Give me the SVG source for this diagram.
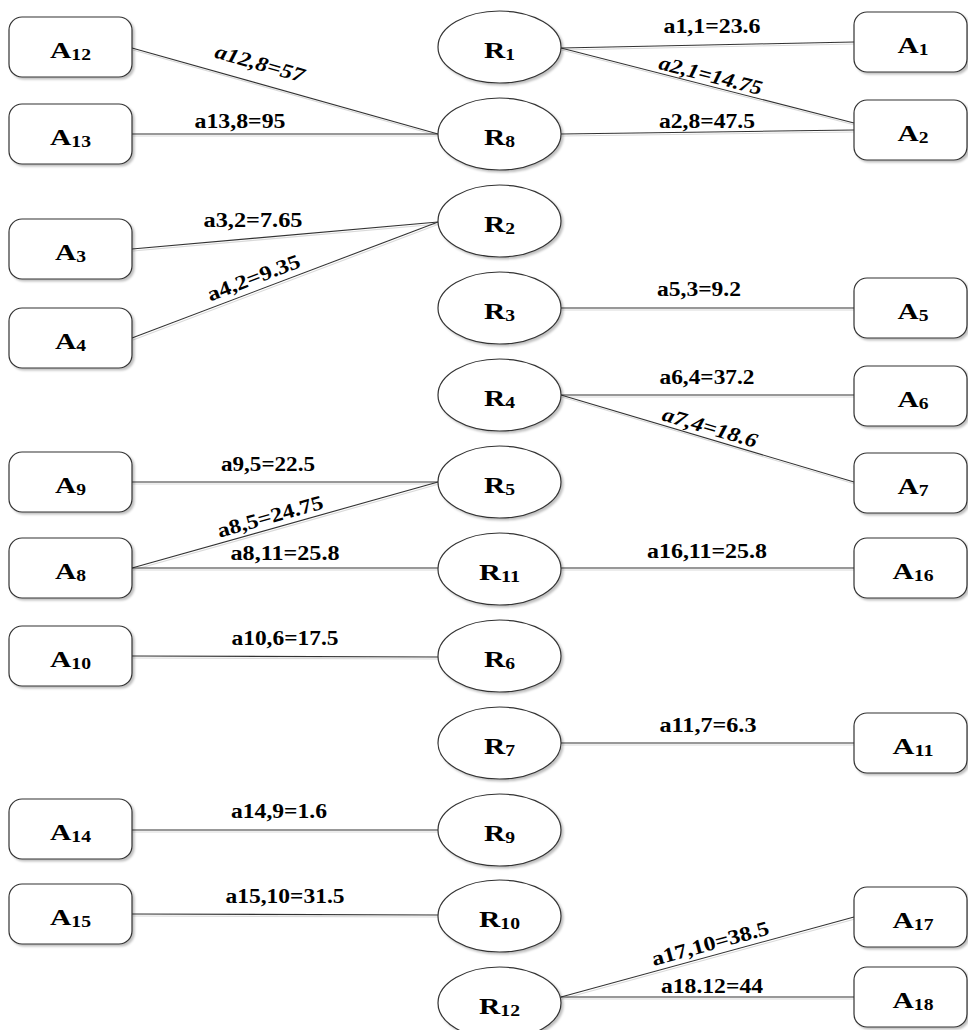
<svg xmlns="http://www.w3.org/2000/svg" width="968" height="1030" viewBox="0 0 968 1030">
<style>
.box{fill:#fff;stroke:#333;stroke-width:1.2;filter:url(#sh)}
.ell{fill:#fff;stroke:#333;stroke-width:1.2;filter:url(#sh)}
.edge{stroke:#333;stroke-width:1.1;fill:none}
.nl{font-family:"Liberation Serif","Times New Roman",serif;font-weight:bold;font-size:24px;fill:#000;text-anchor:middle}
.sub{font-size:16px}
.el{font-family:"Liberation Serif","Times New Roman",serif;font-weight:bold;font-size:20.5px;fill:#000;text-anchor:middle}
.it{font-style:italic}
</style>
<defs>
<filter id="sh" x="-10%" y="-10%" width="130%" height="130%"><feDropShadow dx="2" dy="2" stdDeviation="1" flood-color="#000" flood-opacity="0.25"/></filter>
<filter id="lsh" filterUnits="userSpaceOnUse" x="0" y="0" width="968" height="1030"><feDropShadow dx="1" dy="2" stdDeviation="0.6" flood-color="#000" flood-opacity="0.15"/></filter>
</defs>
<rect width="968" height="1030" fill="#fff"/>
<g id="connectors" filter="url(#lsh)">
<line class="edge" x1="132" y1="48" x2="438" y2="134"/>
<line class="edge" x1="132" y1="134" x2="438" y2="134"/>
<line class="edge" x1="561" y1="48" x2="854" y2="42"/>
<line class="edge" x1="561" y1="48" x2="854" y2="123"/>
<line class="edge" x1="561" y1="134" x2="854" y2="130"/>
<line class="edge" x1="132" y1="249" x2="438" y2="222"/>
<line class="edge" x1="132" y1="338" x2="438" y2="222"/>
<line class="edge" x1="561" y1="308" x2="854" y2="308"/>
<line class="edge" x1="561" y1="395" x2="854" y2="395"/>
<line class="edge" x1="561" y1="395" x2="854" y2="482"/>
<line class="edge" x1="132" y1="482" x2="438" y2="482"/>
<line class="edge" x1="132" y1="568" x2="438" y2="482"/>
<line class="edge" x1="132" y1="568" x2="438" y2="568"/>
<line class="edge" x1="561" y1="568" x2="854" y2="568"/>
<line class="edge" x1="132" y1="656" x2="438" y2="657"/>
<line class="edge" x1="561" y1="743" x2="854" y2="743"/>
<line class="edge" x1="132" y1="830" x2="438" y2="830"/>
<line class="edge" x1="132" y1="914" x2="438" y2="915"/>
<line class="edge" x1="561" y1="997" x2="854" y2="917"/>
<line class="edge" x1="561" y1="997" x2="854" y2="997"/>
</g>
<g id="edge-labels">
<text class="el it" x="258" y="70" textLength="92" lengthAdjust="spacingAndGlyphs" transform="rotate(16 258 70)">a12,8=57</text>
<text class="el" x="240" y="128" textLength="91" lengthAdjust="spacingAndGlyphs">a13,8=95</text>
<text class="el" x="712" y="33" textLength="97" lengthAdjust="spacingAndGlyphs">a1,1=23.6</text>
<text class="el it" x="709" y="82" textLength="106" lengthAdjust="spacingAndGlyphs" transform="rotate(14.4 709 82)">a2,1=14.75</text>
<text class="el" x="707" y="128" textLength="96" lengthAdjust="spacingAndGlyphs">a2,8=47.5</text>
<text class="el" x="253" y="227" textLength="99" lengthAdjust="spacingAndGlyphs">a3,2=7.65</text>
<text class="el" x="256" y="284" textLength="98" lengthAdjust="spacingAndGlyphs" transform="rotate(-20.8 256 284)">a4,2=9.35</text>
<text class="el" x="699" y="296" textLength="84" lengthAdjust="spacingAndGlyphs">a5,3=9.2</text>
<text class="el" x="707" y="384" textLength="95" lengthAdjust="spacingAndGlyphs">a6,4=37.2</text>
<text class="el it" x="708" y="434" textLength="98" lengthAdjust="spacingAndGlyphs" transform="rotate(16.5 708 434)">a7,4=18.6</text>
<text class="el" x="268" y="471" textLength="94" lengthAdjust="spacingAndGlyphs">a9,5=22.5</text>
<text class="el" x="272" y="523" textLength="109" lengthAdjust="spacingAndGlyphs" transform="rotate(-15.7 272 523)">a8,5=24.75</text>
<text class="el" x="285" y="560" textLength="109" lengthAdjust="spacingAndGlyphs">a8,11=25.8</text>
<text class="el" x="707" y="558" textLength="120" lengthAdjust="spacingAndGlyphs">a16,11=25.8</text>
<text class="el" x="285" y="645" textLength="107" lengthAdjust="spacingAndGlyphs">a10,6=17.5</text>
<text class="el" x="708" y="732" textLength="97" lengthAdjust="spacingAndGlyphs">a11,7=6.3</text>
<text class="el" x="279" y="818" textLength="96" lengthAdjust="spacingAndGlyphs">a14,9=1.6</text>
<text class="el" x="285" y="903" textLength="119" lengthAdjust="spacingAndGlyphs">a15,10=31.5</text>
<text class="el" x="712" y="950" textLength="121" lengthAdjust="spacingAndGlyphs" transform="rotate(-15.3 712 950)">a17,10=38.5</text>
<text class="el" x="712" y="993" textLength="102" lengthAdjust="spacingAndGlyphs">a18.12=44</text>
</g>
<g id="A12"><rect class="box" x="9" y="17" width="123" height="60" rx="13"/><text class="nl" x="70.5" y="58" textLength="41" lengthAdjust="spacingAndGlyphs">A<tspan class="sub" dy="2">12</tspan></text></g>
<g id="A13"><rect class="box" x="9" y="104" width="123" height="60" rx="13"/><text class="nl" x="70.5" y="145" textLength="41" lengthAdjust="spacingAndGlyphs">A<tspan class="sub" dy="2">13</tspan></text></g>
<g id="A3"><rect class="box" x="9" y="219" width="123" height="60" rx="13"/><text class="nl" x="70.5" y="260" textLength="31" lengthAdjust="spacingAndGlyphs">A<tspan class="sub" dy="2">3</tspan></text></g>
<g id="A4"><rect class="box" x="9" y="308" width="123" height="60" rx="13"/><text class="nl" x="70.5" y="349" textLength="31" lengthAdjust="spacingAndGlyphs">A<tspan class="sub" dy="2">4</tspan></text></g>
<g id="A9"><rect class="box" x="9" y="452" width="123" height="60" rx="13"/><text class="nl" x="70.5" y="493" textLength="31" lengthAdjust="spacingAndGlyphs">A<tspan class="sub" dy="2">9</tspan></text></g>
<g id="A8"><rect class="box" x="9" y="538" width="123" height="60" rx="13"/><text class="nl" x="70.5" y="579" textLength="31" lengthAdjust="spacingAndGlyphs">A<tspan class="sub" dy="2">8</tspan></text></g>
<g id="A10"><rect class="box" x="9" y="626" width="123" height="60" rx="13"/><text class="nl" x="70.5" y="667" textLength="41" lengthAdjust="spacingAndGlyphs">A<tspan class="sub" dy="2">10</tspan></text></g>
<g id="A14"><rect class="box" x="9" y="799" width="123" height="60" rx="13"/><text class="nl" x="70.5" y="840" textLength="41" lengthAdjust="spacingAndGlyphs">A<tspan class="sub" dy="2">14</tspan></text></g>
<g id="A15"><rect class="box" x="9" y="884" width="123" height="60" rx="13"/><text class="nl" x="70.5" y="925" textLength="41" lengthAdjust="spacingAndGlyphs">A<tspan class="sub" dy="2">15</tspan></text></g>
<g id="A1"><rect class="box" x="854" y="12" width="113" height="60" rx="13"/><text class="nl" x="913" y="53" textLength="31" lengthAdjust="spacingAndGlyphs">A<tspan class="sub" dy="2">1</tspan></text></g>
<g id="A2"><rect class="box" x="854" y="100" width="113" height="60" rx="13"/><text class="nl" x="913" y="141" textLength="31" lengthAdjust="spacingAndGlyphs">A<tspan class="sub" dy="2">2</tspan></text></g>
<g id="A5"><rect class="box" x="854" y="278" width="113" height="60" rx="13"/><text class="nl" x="913" y="319" textLength="31" lengthAdjust="spacingAndGlyphs">A<tspan class="sub" dy="2">5</tspan></text></g>
<g id="A6"><rect class="box" x="854" y="366" width="113" height="60" rx="13"/><text class="nl" x="913" y="407" textLength="31" lengthAdjust="spacingAndGlyphs">A<tspan class="sub" dy="2">6</tspan></text></g>
<g id="A7"><rect class="box" x="854" y="453" width="113" height="60" rx="13"/><text class="nl" x="913" y="494" textLength="31" lengthAdjust="spacingAndGlyphs">A<tspan class="sub" dy="2">7</tspan></text></g>
<g id="A16"><rect class="box" x="854" y="538" width="113" height="60" rx="13"/><text class="nl" x="913" y="579" textLength="41" lengthAdjust="spacingAndGlyphs">A<tspan class="sub" dy="2">16</tspan></text></g>
<g id="A11"><rect class="box" x="854" y="713" width="113" height="60" rx="13"/><text class="nl" x="913" y="754" textLength="41" lengthAdjust="spacingAndGlyphs">A<tspan class="sub" dy="2">11</tspan></text></g>
<g id="A17"><rect class="box" x="854" y="887" width="113" height="60" rx="13"/><text class="nl" x="913" y="928" textLength="41" lengthAdjust="spacingAndGlyphs">A<tspan class="sub" dy="2">17</tspan></text></g>
<g id="A18"><rect class="box" x="854" y="967" width="113" height="60" rx="13"/><text class="nl" x="913" y="1008" textLength="41" lengthAdjust="spacingAndGlyphs">A<tspan class="sub" dy="2">18</tspan></text></g>
<g id="R1"><ellipse class="ell" cx="499.5" cy="47" rx="61.5" ry="36"/><text class="nl" x="499.5" y="58" textLength="31" lengthAdjust="spacingAndGlyphs">R<tspan class="sub" dy="2">1</tspan></text></g>
<g id="R8"><ellipse class="ell" cx="499.5" cy="134" rx="61.5" ry="36"/><text class="nl" x="499.5" y="145" textLength="31" lengthAdjust="spacingAndGlyphs">R<tspan class="sub" dy="2">8</tspan></text></g>
<g id="R2"><ellipse class="ell" cx="499.5" cy="221" rx="61.5" ry="36"/><text class="nl" x="499.5" y="232" textLength="31" lengthAdjust="spacingAndGlyphs">R<tspan class="sub" dy="2">2</tspan></text></g>
<g id="R3"><ellipse class="ell" cx="499.5" cy="308" rx="61.5" ry="36"/><text class="nl" x="499.5" y="319" textLength="31" lengthAdjust="spacingAndGlyphs">R<tspan class="sub" dy="2">3</tspan></text></g>
<g id="R4"><ellipse class="ell" cx="499.5" cy="395" rx="61.5" ry="36"/><text class="nl" x="499.5" y="406" textLength="31" lengthAdjust="spacingAndGlyphs">R<tspan class="sub" dy="2">4</tspan></text></g>
<g id="R5"><ellipse class="ell" cx="499.5" cy="482" rx="61.5" ry="36"/><text class="nl" x="499.5" y="493" textLength="31" lengthAdjust="spacingAndGlyphs">R<tspan class="sub" dy="2">5</tspan></text></g>
<g id="R11"><ellipse class="ell" cx="499.5" cy="569" rx="61.5" ry="36"/><text class="nl" x="499.5" y="580" textLength="41" lengthAdjust="spacingAndGlyphs">R<tspan class="sub" dy="2">11</tspan></text></g>
<g id="R6"><ellipse class="ell" cx="499.5" cy="656" rx="61.5" ry="36"/><text class="nl" x="499.5" y="667" textLength="31" lengthAdjust="spacingAndGlyphs">R<tspan class="sub" dy="2">6</tspan></text></g>
<g id="R7"><ellipse class="ell" cx="499.5" cy="743" rx="61.5" ry="36"/><text class="nl" x="499.5" y="754" textLength="31" lengthAdjust="spacingAndGlyphs">R<tspan class="sub" dy="2">7</tspan></text></g>
<g id="R9"><ellipse class="ell" cx="499.5" cy="830" rx="61.5" ry="36"/><text class="nl" x="499.5" y="841" textLength="31" lengthAdjust="spacingAndGlyphs">R<tspan class="sub" dy="2">9</tspan></text></g>
<g id="R10"><ellipse class="ell" cx="499.5" cy="916" rx="61.5" ry="36"/><text class="nl" x="499.5" y="927" textLength="41" lengthAdjust="spacingAndGlyphs">R<tspan class="sub" dy="2">10</tspan></text></g>
<g id="R12"><ellipse class="ell" cx="499.5" cy="1003" rx="61.5" ry="36"/><text class="nl" x="499.5" y="1014" textLength="41" lengthAdjust="spacingAndGlyphs">R<tspan class="sub" dy="2">12</tspan></text></g>
</svg>
